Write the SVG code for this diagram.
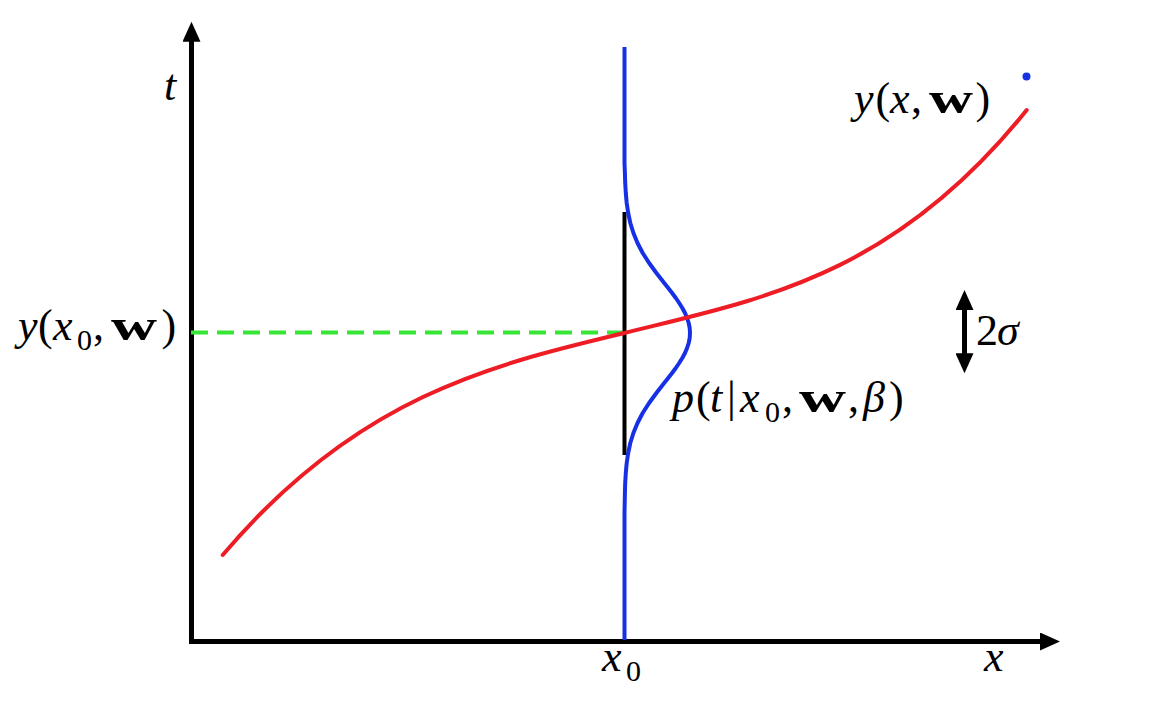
<svg xmlns="http://www.w3.org/2000/svg" width="1154" height="718" viewBox="0 0 1154 718">
<style>
.ax{stroke:#000;stroke-width:5;fill:none}
.lbl{font-family:"Liberation Serif","Times New Roman",serif;font-size:44px;fill:#000}
.it{font-style:italic}
.bf{font-weight:bold;font-size:44px}
.sub{font-size:30px}
</style>
<defs>
<marker id="ah" markerUnits="userSpaceOnUse" markerWidth="20" markerHeight="18" refX="10" refY="9" orient="auto-start-reverse" viewBox="0 0 20 18">
<path d="M0,0 L20,9 L0,18 z" fill="#000"/>
</marker>
</defs>
<rect width="1154" height="718" fill="#fff"/>
<g id="axes">
<line class="ax" x1="191.5" y1="644" x2="191.5" y2="31.7" marker-end="url(#ah)"/>
<line class="ax" x1="189" y1="641.5" x2="1050" y2="641.5" marker-end="url(#ah)"/>
</g>
<g id="connectors">
<line id="mean-guide" x1="191" y1="332.5" x2="622" y2="332.5" stroke="#36e536" stroke-width="4" stroke-dasharray="17 9"/>
<line id="x0-line" x1="624.5" y1="212" x2="624.5" y2="455" stroke="#000" stroke-width="4"/>
<path id="gaussian" d="M624.5,47 L624.5,163 L624.9,173 L625.2,183 L625.8,193 L626.7,203 L628.2,213 L630.3,223 L633.4,233 L637.5,243 L642.7,253 L649.1,263 L656.4,273 L660.3,278 L664.2,283 L668.2,288 L672.1,293 L675.8,298 L679.2,303 L682.3,308 L685,313 L687.1,318 L688.7,323 L689.7,328 L690,333 L689.7,338 L688.7,343 L687.1,348 L685,353 L682.3,358 L679.2,363 L675.8,368 L672.1,373 L668.2,378 L664.2,383 L660.3,388 L656.4,393 L649.1,403 L642.7,413 L637.5,423 L633.4,433 L630.3,443 L628.2,453 L626.7,463 L625.8,473 L625.2,483 L624.9,493 L624.7,503 L624.5,513 L624.5,640" fill="none" stroke="#1630e6" stroke-width="4" stroke-linejoin="round"/>
<path id="regression" d="M222.7,555 C356.2,397.3 489.8,365.3 623.3,333.3 C757.8,299.7 892.2,277.9 1026.7,110" fill="none" stroke="#ee1c25" stroke-width="4" stroke-linecap="round"/>
<circle id="dot" cx="1026.5" cy="76.5" r="4" fill="#1630e6"/>
<line id="sigma-arrow" x1="964.5" y1="300" x2="964.5" y2="363.3" class="ax" stroke-width="4" marker-start="url(#ah)" marker-end="url(#ah)"/>
</g>
<g id="label-t"><text class="lbl it" x="164" y="100">t</text></g>
<g id="label-x"><text class="lbl it" x="984" y="671">x</text></g>
<g id="label-x0"><text class="lbl" y="671"><tspan class="it" x="602">x</tspan><tspan class="sub" x="626" y="681">0</tspan></text></g>
<g id="label-y0">
<text class="lbl" y="340"><tspan class="it" x="18">y</tspan><tspan x="38">(</tspan><tspan class="it" x="53">x</tspan><tspan class="sub" x="77" y="350">0</tspan><tspan x="93" y="340">,</tspan><tspan x="161.5">)</tspan></text>
<text class="lbl bf" x="111" y="340" textLength="46" lengthAdjust="spacingAndGlyphs">w</text>
</g>
<g id="label-yxw">
<text class="lbl" y="113"><tspan class="it" x="854">y</tspan><tspan x="875.5">(</tspan><tspan class="it" x="890">x</tspan><tspan x="911">,</tspan><tspan x="975.5">)</tspan></text>
<text class="lbl bf" x="929" y="113" textLength="44" lengthAdjust="spacingAndGlyphs">w</text>
</g>
<g id="label-p">
<text class="lbl" y="412"><tspan class="it" x="672">p</tspan><tspan x="696">(</tspan><tspan class="it" x="710">t</tspan><tspan x="727">|</tspan><tspan class="it" x="740">x</tspan><tspan class="sub" x="765" y="422">0</tspan><tspan x="782" y="412">,</tspan><tspan x="848">,</tspan><tspan class="it" x="863">β</tspan><tspan x="889">)</tspan></text>
<text class="lbl bf" x="799" y="412" textLength="47" lengthAdjust="spacingAndGlyphs">w</text>
</g>
<g id="label-2sigma"><text class="lbl" y="345"><tspan x="976">2</tspan><tspan class="it" x="997">σ</tspan></text></g>
</svg>
